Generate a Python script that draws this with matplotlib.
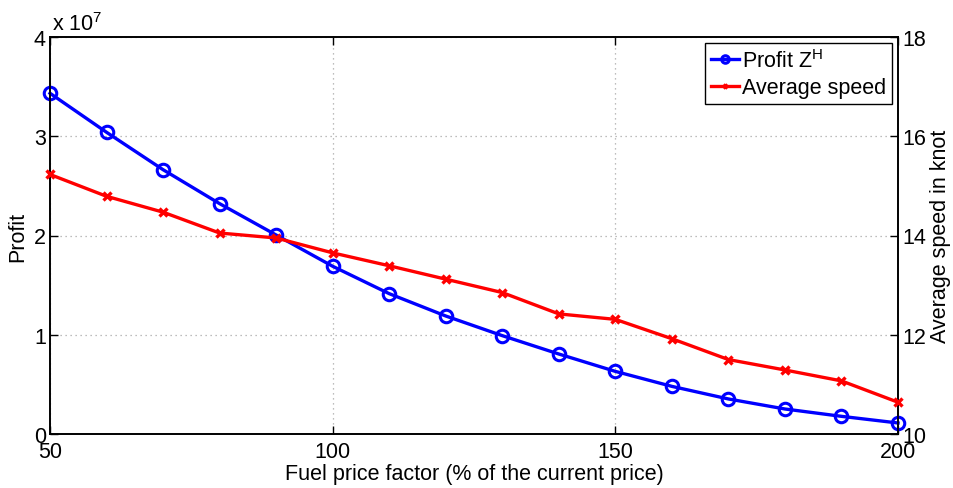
import matplotlib
matplotlib.use("Agg")
import matplotlib.pyplot as plt
from matplotlib.ticker import FuncFormatter

plt.rcParams['font.family'] = ['Liberation Sans', 'DejaVu Sans']

fuel_factor = [50, 60, 70, 80, 90, 100, 110, 120, 130, 140, 150, 160, 170, 180, 190, 200]
profit = [3.433e7, 3.040e7, 2.663e7, 2.321e7, 2.005e7, 1.690e7, 1.414e7, 1.189e7,
          0.991e7, 0.806e7, 0.631e7, 0.480e7, 0.353e7, 0.252e7, 0.178e7, 0.111e7]
avg_speed = [15.23, 14.79, 14.47, 14.05, 13.95, 13.65, 13.39, 13.12,
             12.85, 12.42, 12.31, 11.92, 11.50, 11.29, 11.07, 10.64]
x_ticks = [50, 100, 150, 200]
left_ticks = [0, 1e7, 2e7, 3e7, 4e7]
right_ticks = [10, 12, 14, 16, 18]

fig = plt.figure(figsize=(9.54, 4.89), dpi=100)
ax = fig.add_axes([50/954, 54/489, 848/954, 397/489])
ax2 = ax.twinx()

fs = 15.5
l1, = ax.plot(fuel_factor, profit, color='#0000ff', lw=2.4, marker='o', ms=9,
              mfc='none', mew=2.2, label='Profit Z$^{\\mathregular{H}}$', clip_on=False, zorder=3)
l2, = ax2.plot(fuel_factor, avg_speed, color='#ff0000', lw=2.4, marker='x', ms=6,
               mew=2.4, label='Average speed', clip_on=False, zorder=3)

ax.set_xlim(50, 200)
ax.set_ylim(0, 4e7)
ax2.set_ylim(10, 18)
ax.set_xticks(x_ticks)
ax.set_yticks(left_ticks)
ax2.set_yticks(right_ticks)
ax.yaxis.set_major_formatter(FuncFormatter(lambda v, p: f"{v/1e7:g}"))

ax.grid(True, color='#a8a8a8', linestyle=(0, (1, 3)), linewidth=0.9)
ax.set_axisbelow(True)

for a in (ax, ax2):
    a.tick_params(direction='in', length=6, width=1, labelsize=fs, pad=3)
    for s in a.spines.values():
        s.set_linewidth(1.2)
ax.tick_params(axis='x', top=True, pad=5)

ax.set_xlabel('Fuel price factor (% of the current price)', fontsize=fs, labelpad=1)
ax.set_ylabel('Profit', fontsize=fs, labelpad=4)
ax2.set_ylabel('Average speed in knot', fontsize=fs, labelpad=3)

fig.text(52/954, 1 - 25/489, 'x 10$^{\\mathregular{7}}$', fontsize=fs, ha='left', va='center')

leg = ax2.legend(handles=[l1, l2], loc='upper right', fontsize=fs, frameon=True,
                 fancybox=False, edgecolor='black', framealpha=1, handlelength=1.3,
                 handletextpad=0.15, borderpad=0.25, labelspacing=0.25,
                 borderaxespad=0.3, markerscale=0.6)
leg.get_frame().set_linewidth(1.0)

fig.savefig('out.png', dpi=100)
